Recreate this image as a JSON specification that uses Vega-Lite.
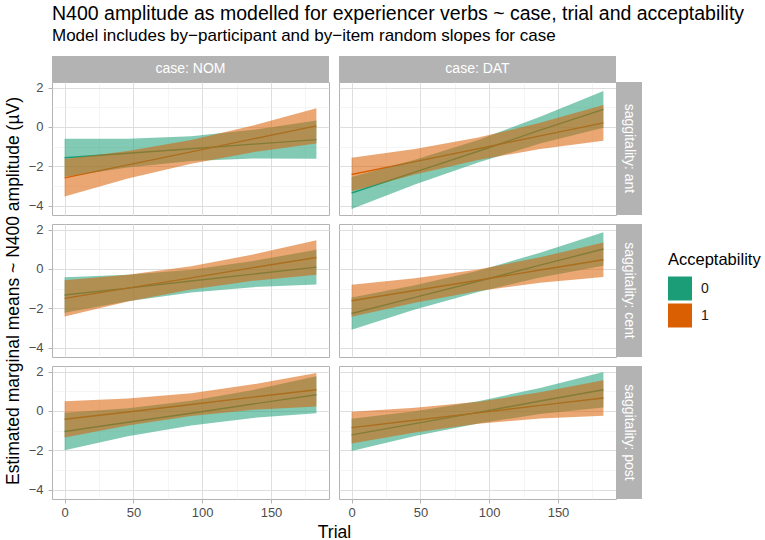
{
  "$schema": "https://vega.github.io/schema/vega-lite/v6.json",
  "padding": {"left": 3, "top": 3, "right": 5, "bottom": 2},
  "title": {
    "text": "N400 amplitude as modelled for experiencer verbs ~ case, trial and acceptability",
    "subtitle": "Model includes by−participant and by−item random slopes for case",
    "anchor": "start", "frame": "group", "offset": 11
  },
  "datasets": {
    "em": [
      {"case": "NOM", "sag": "ant", "acc": "0", "trial": 0, "emmean": -1.57, "lower": -2.54, "upper": -0.60},
      {"case": "NOM", "sag": "ant", "acc": "0", "trial": 46, "emmean": -1.34, "lower": -2.07, "upper": -0.61},
      {"case": "NOM", "sag": "ant", "acc": "0", "trial": 92, "emmean": -1.11, "lower": -1.74, "upper": -0.48},
      {"case": "NOM", "sag": "ant", "acc": "0", "trial": 137, "emmean": -0.88, "lower": -1.61, "upper": -0.15},
      {"case": "NOM", "sag": "ant", "acc": "0", "trial": 183, "emmean": -0.65, "lower": -1.62, "upper": 0.32},
      {"case": "NOM", "sag": "ant", "acc": "1", "trial": 0, "emmean": -2.59, "lower": -3.54, "upper": -1.64},
      {"case": "NOM", "sag": "ant", "acc": "1", "trial": 46, "emmean": -1.93, "lower": -2.63, "upper": -1.23},
      {"case": "NOM", "sag": "ant", "acc": "1", "trial": 92, "emmean": -1.27, "lower": -1.87, "upper": -0.67},
      {"case": "NOM", "sag": "ant", "acc": "1", "trial": 137, "emmean": -0.61, "lower": -1.29, "upper": 0.07},
      {"case": "NOM", "sag": "ant", "acc": "1", "trial": 183, "emmean": 0.05, "lower": -0.85, "upper": 0.95},
      {"case": "DAT", "sag": "ant", "acc": "0", "trial": 0, "emmean": -3.36, "lower": -4.17, "upper": -2.55},
      {"case": "DAT", "sag": "ant", "acc": "0", "trial": 46, "emmean": -2.30, "lower": -2.93, "upper": -1.67},
      {"case": "DAT", "sag": "ant", "acc": "0", "trial": 92, "emmean": -1.24, "lower": -1.81, "upper": -0.67},
      {"case": "DAT", "sag": "ant", "acc": "0", "trial": 137, "emmean": -0.17, "lower": -0.85, "upper": 0.51},
      {"case": "DAT", "sag": "ant", "acc": "0", "trial": 183, "emmean": 0.89, "lower": -0.04, "upper": 1.82},
      {"case": "DAT", "sag": "ant", "acc": "1", "trial": 0, "emmean": -2.42, "lower": -3.27, "upper": -1.57},
      {"case": "DAT", "sag": "ant", "acc": "1", "trial": 46, "emmean": -1.77, "lower": -2.42, "upper": -1.12},
      {"case": "DAT", "sag": "ant", "acc": "1", "trial": 92, "emmean": -1.11, "lower": -1.68, "upper": -0.54},
      {"case": "DAT", "sag": "ant", "acc": "1", "trial": 137, "emmean": -0.46, "lower": -1.13, "upper": 0.21},
      {"case": "DAT", "sag": "ant", "acc": "1", "trial": 183, "emmean": 0.20, "lower": -0.71, "upper": 1.11},
      {"case": "NOM", "sag": "cent", "acc": "0", "trial": 0, "emmean": -1.33, "lower": -2.23, "upper": -0.43},
      {"case": "NOM", "sag": "cent", "acc": "0", "trial": 46, "emmean": -0.98, "lower": -1.65, "upper": -0.30},
      {"case": "NOM", "sag": "cent", "acc": "0", "trial": 92, "emmean": -0.62, "lower": -1.20, "upper": -0.04},
      {"case": "NOM", "sag": "cent", "acc": "0", "trial": 137, "emmean": -0.27, "lower": -0.93, "upper": 0.40},
      {"case": "NOM", "sag": "cent", "acc": "0", "trial": 183, "emmean": 0.09, "lower": -0.79, "upper": 0.97},
      {"case": "NOM", "sag": "cent", "acc": "1", "trial": 0, "emmean": -1.50, "lower": -2.42, "upper": -0.58},
      {"case": "NOM", "sag": "cent", "acc": "1", "trial": 46, "emmean": -0.98, "lower": -1.66, "upper": -0.30},
      {"case": "NOM", "sag": "cent", "acc": "1", "trial": 92, "emmean": -0.46, "lower": -1.05, "upper": 0.13},
      {"case": "NOM", "sag": "cent", "acc": "1", "trial": 137, "emmean": 0.06, "lower": -0.61, "upper": 0.73},
      {"case": "NOM", "sag": "cent", "acc": "1", "trial": 183, "emmean": 0.58, "lower": -0.30, "upper": 1.46},
      {"case": "DAT", "sag": "cent", "acc": "0", "trial": 0, "emmean": -2.27, "lower": -3.09, "upper": -1.45},
      {"case": "DAT", "sag": "cent", "acc": "0", "trial": 46, "emmean": -1.45, "lower": -2.07, "upper": -0.83},
      {"case": "DAT", "sag": "cent", "acc": "0", "trial": 92, "emmean": -0.63, "lower": -1.17, "upper": -0.09},
      {"case": "DAT", "sag": "cent", "acc": "0", "trial": 137, "emmean": 0.19, "lower": -0.44, "upper": 0.82},
      {"case": "DAT", "sag": "cent", "acc": "0", "trial": 183, "emmean": 1.01, "lower": 0.16, "upper": 1.86},
      {"case": "DAT", "sag": "cent", "acc": "1", "trial": 0, "emmean": -1.62, "lower": -2.43, "upper": -0.81},
      {"case": "DAT", "sag": "cent", "acc": "1", "trial": 46, "emmean": -1.10, "lower": -1.72, "upper": -0.48},
      {"case": "DAT", "sag": "cent", "acc": "1", "trial": 92, "emmean": -0.58, "lower": -1.13, "upper": -0.03},
      {"case": "DAT", "sag": "cent", "acc": "1", "trial": 137, "emmean": -0.06, "lower": -0.71, "upper": 0.59},
      {"case": "DAT", "sag": "cent", "acc": "1", "trial": 183, "emmean": 0.46, "lower": -0.42, "upper": 1.34},
      {"case": "NOM", "sag": "post", "acc": "0", "trial": 0, "emmean": -1.05, "lower": -2.00, "upper": -0.10},
      {"case": "NOM", "sag": "post", "acc": "0", "trial": 46, "emmean": -0.58, "lower": -1.29, "upper": 0.13},
      {"case": "NOM", "sag": "post", "acc": "0", "trial": 92, "emmean": -0.12, "lower": -0.74, "upper": 0.51},
      {"case": "NOM", "sag": "post", "acc": "0", "trial": 137, "emmean": 0.35, "lower": -0.36, "upper": 1.06},
      {"case": "NOM", "sag": "post", "acc": "0", "trial": 183, "emmean": 0.82, "lower": -0.12, "upper": 1.76},
      {"case": "NOM", "sag": "post", "acc": "1", "trial": 0, "emmean": -0.43, "lower": -1.35, "upper": 0.49},
      {"case": "NOM", "sag": "post", "acc": "1", "trial": 46, "emmean": -0.06, "lower": -0.74, "upper": 0.63},
      {"case": "NOM", "sag": "post", "acc": "1", "trial": 92, "emmean": 0.32, "lower": -0.26, "upper": 0.90},
      {"case": "NOM", "sag": "post", "acc": "1", "trial": 137, "emmean": 0.70, "lower": 0.05, "upper": 1.35},
      {"case": "NOM", "sag": "post", "acc": "1", "trial": 183, "emmean": 1.07, "lower": 0.22, "upper": 1.92},
      {"case": "DAT", "sag": "post", "acc": "0", "trial": 0, "emmean": -1.22, "lower": -2.04, "upper": -0.40},
      {"case": "DAT", "sag": "post", "acc": "0", "trial": 46, "emmean": -0.65, "lower": -1.28, "upper": -0.02},
      {"case": "DAT", "sag": "post", "acc": "0", "trial": 92, "emmean": -0.08, "lower": -0.64, "upper": 0.49},
      {"case": "DAT", "sag": "post", "acc": "0", "trial": 137, "emmean": 0.50, "lower": -0.16, "upper": 1.16},
      {"case": "DAT", "sag": "post", "acc": "0", "trial": 183, "emmean": 1.07, "lower": 0.17, "upper": 1.97},
      {"case": "DAT", "sag": "post", "acc": "1", "trial": 0, "emmean": -0.85, "lower": -1.66, "upper": -0.04},
      {"case": "DAT", "sag": "post", "acc": "1", "trial": 46, "emmean": -0.48, "lower": -1.10, "upper": 0.16},
      {"case": "DAT", "sag": "post", "acc": "1", "trial": 92, "emmean": -0.10, "lower": -0.66, "upper": 0.46},
      {"case": "DAT", "sag": "post", "acc": "1", "trial": 137, "emmean": 0.28, "lower": -0.39, "upper": 0.94},
      {"case": "DAT", "sag": "post", "acc": "1", "trial": 183, "emmean": 0.65, "lower": -0.25, "upper": 1.55}
    ]
  },
  "columns": 4,
  "spacing": 0,
  "bounds": "flush",
  "align": "each",
  "concat": [
    {"width": 277, "height": 26, "view": {"stroke": null}, "data": {"values": [{"label": "case: NOM"}]},
     "layer": [{"mark": {"type": "rect", "color": "#b3b3b3"}, "encoding": {}},
               {"mark": {"type": "text", "color": "white", "fontSize": 14}, "encoding": {"text": {"field": "label"}}}]},
    {"width": 10, "height": 26, "view": {"stroke": null}, "data": {"values": [{}]}, "mark": {"type": "rect", "opacity": 0}, "encoding": {}},
    {"width": 277, "height": 26, "view": {"stroke": null}, "data": {"values": [{"label": "case: DAT"}]},
     "layer": [{"mark": {"type": "rect", "color": "#b3b3b3"}, "encoding": {}},
               {"mark": {"type": "text", "color": "white", "fontSize": 14}, "encoding": {"text": {"field": "label"}}}]},
    {"width": 26, "height": 26, "view": {"stroke": null}, "data": {"values": [{}]}, "mark": {"type": "rect", "opacity": 0}, "encoding": {}},

    {"width": 277, "height": 133, "data": {"name": "em"},
     "transform": [{"filter": "datum.case === 'NOM' && datum.sag === 'ant'"}],
     "encoding": {
       "x": {"field": "trial", "type": "quantitative", "scale": {"domain": [-9.15, 192.15], "nice": false, "zero": false},
         "axis": {"values": [0, 25, 50, 75, 100, 125, 150, 175], "labels": false, "ticks": false, "title": null,
                  "gridColor": {"condition": {"test": "datum.value % 50 === 0", "value": "#dedede"}, "value": "#efefef"},
                  "gridWidth": {"condition": {"test": "datum.value % 50 === 0", "value": 1}, "value": 0.6}}},
       "y": {"field": "emmean", "type": "quantitative", "scale": {"domain": [-4.48, 2.28], "nice": false, "zero": false},
         "axis": {"values": [-4, -3, -2, -1, 0, 1, 2], "labelExpr": "datum.value % 2 === 0 ? datum.label : ''", "labelOverlap": false, "title": null,
                  "tickOpacity": {"condition": {"test": "datum.value % 2 === 0", "value": 1}, "value": 0},
                  "gridColor": {"condition": {"test": "datum.value % 2 === 0", "value": "#dedede"}, "value": "#efefef"},
                  "gridWidth": {"condition": {"test": "datum.value % 2 === 0", "value": 1}, "value": 0.6}}}},
     "layer": [
       {"transform": [{"filter": "datum.acc === '0'"}], "mark": {"type": "line", "strokeWidth": 1.4, "color": "#1b9e77"}, "encoding": {}},
       {"transform": [{"filter": "datum.acc === '1'"}], "mark": {"type": "line", "strokeWidth": 1.4, "color": "#d95f02"}, "encoding": {}},
       {"mark": {"type": "area", "fillOpacity": 0.55},
        "encoding": {"y": {"field": "lower", "type": "quantitative", "scale": {"domain": [-4.48, 2.28], "nice": false, "zero": false},
          "axis": {"values": [-4, -3, -2, -1, 0, 1, 2], "labelExpr": "datum.value % 2 === 0 ? datum.label : ''", "labelOverlap": false, "title": null,
                   "tickOpacity": {"condition": {"test": "datum.value % 2 === 0", "value": 1}, "value": 0},
                   "gridColor": {"condition": {"test": "datum.value % 2 === 0", "value": "#dedede"}, "value": "#efefef"},
                   "gridWidth": {"condition": {"test": "datum.value % 2 === 0", "value": 1}, "value": 0.6}}},
          "y2": {"field": "upper"},
          "fill": {"field": "acc", "type": "nominal", "title": "Acceptability", "scale": {"domain": ["0", "1"], "range": ["#1b9e77", "#d95f02"]}}}}
     ]},
    {"width": 10, "height": 133, "view": {"stroke": null}, "data": {"values": [{}]}, "mark": {"type": "rect", "opacity": 0}, "encoding": {}},
    {"width": 277, "height": 133, "data": {"name": "em"},
     "transform": [{"filter": "datum.case === 'DAT' && datum.sag === 'ant'"}],
     "encoding": {
       "x": {"field": "trial", "type": "quantitative", "scale": {"domain": [-9.15, 192.15], "nice": false, "zero": false},
         "axis": {"values": [0, 25, 50, 75, 100, 125, 150, 175], "labels": false, "ticks": false, "title": null,
                  "gridColor": {"condition": {"test": "datum.value % 50 === 0", "value": "#dedede"}, "value": "#efefef"},
                  "gridWidth": {"condition": {"test": "datum.value % 50 === 0", "value": 1}, "value": 0.6}}},
       "y": {"field": "emmean", "type": "quantitative", "scale": {"domain": [-4.48, 2.28], "nice": false, "zero": false},
         "axis": {"values": [-4, -3, -2, -1, 0, 1, 2], "labels": false, "ticks": false, "title": null,
                  "gridColor": {"condition": {"test": "datum.value % 2 === 0", "value": "#dedede"}, "value": "#efefef"},
                  "gridWidth": {"condition": {"test": "datum.value % 2 === 0", "value": 1}, "value": 0.6}}}},
     "layer": [
       {"transform": [{"filter": "datum.acc === '0'"}], "mark": {"type": "line", "strokeWidth": 1.4, "color": "#1b9e77"}, "encoding": {}},
       {"transform": [{"filter": "datum.acc === '1'"}], "mark": {"type": "line", "strokeWidth": 1.4, "color": "#d95f02"}, "encoding": {}},
       {"mark": {"type": "area", "fillOpacity": 0.55},
        "encoding": {"y": {"field": "lower", "type": "quantitative", "scale": {"domain": [-4.48, 2.28], "nice": false, "zero": false},
          "axis": {"values": [-4, -3, -2, -1, 0, 1, 2], "labels": false, "ticks": false, "title": null,
                   "gridColor": {"condition": {"test": "datum.value % 2 === 0", "value": "#dedede"}, "value": "#efefef"},
                   "gridWidth": {"condition": {"test": "datum.value % 2 === 0", "value": 1}, "value": 0.6}}},
          "y2": {"field": "upper"},
          "fill": {"field": "acc", "type": "nominal", "title": "Acceptability", "scale": {"domain": ["0", "1"], "range": ["#1b9e77", "#d95f02"]}}}}
     ]},
    {"width": 26, "height": 133, "view": {"stroke": null}, "data": {"values": [{"label": "saggitality: ant"}]},
     "layer": [{"mark": {"type": "rect", "color": "#b3b3b3"}, "encoding": {}},
               {"mark": {"type": "text", "color": "white", "fontSize": 14, "angle": 90}, "encoding": {"text": {"field": "label"}}}]},

    {"width": 277, "height": 9, "view": {"stroke": null}, "data": {"values": [{}]}, "mark": {"type": "rect", "opacity": 0}, "encoding": {}},
    {"width": 10, "height": 9, "view": {"stroke": null}, "data": {"values": [{}]}, "mark": {"type": "rect", "opacity": 0}, "encoding": {}},
    {"width": 277, "height": 9, "view": {"stroke": null}, "data": {"values": [{}]}, "mark": {"type": "rect", "opacity": 0}, "encoding": {}},
    {"width": 26, "height": 9, "view": {"stroke": null}, "data": {"values": [{}]}, "mark": {"type": "rect", "opacity": 0}, "encoding": {}},

    {"width": 277, "height": 133, "data": {"name": "em"},
     "transform": [{"filter": "datum.case === 'NOM' && datum.sag === 'cent'"}],
     "encoding": {
       "x": {"field": "trial", "type": "quantitative", "scale": {"domain": [-9.15, 192.15], "nice": false, "zero": false},
         "axis": {"values": [0, 25, 50, 75, 100, 125, 150, 175], "labels": false, "ticks": false, "title": null,
                  "gridColor": {"condition": {"test": "datum.value % 50 === 0", "value": "#dedede"}, "value": "#efefef"},
                  "gridWidth": {"condition": {"test": "datum.value % 50 === 0", "value": 1}, "value": 0.6}}},
       "y": {"field": "emmean", "type": "quantitative", "scale": {"domain": [-4.48, 2.28], "nice": false, "zero": false},
         "axis": {"values": [-4, -3, -2, -1, 0, 1, 2], "labelExpr": "datum.value % 2 === 0 ? datum.label : ''", "labelOverlap": false,
                  "title": "Estimated marginal means ~ N400 amplitude (µV)",
                  "tickOpacity": {"condition": {"test": "datum.value % 2 === 0", "value": 1}, "value": 0},
                  "gridColor": {"condition": {"test": "datum.value % 2 === 0", "value": "#dedede"}, "value": "#efefef"},
                  "gridWidth": {"condition": {"test": "datum.value % 2 === 0", "value": 1}, "value": 0.6}}}},
     "layer": [
       {"transform": [{"filter": "datum.acc === '0'"}], "mark": {"type": "line", "strokeWidth": 1.4, "color": "#1b9e77"}, "encoding": {}},
       {"transform": [{"filter": "datum.acc === '1'"}], "mark": {"type": "line", "strokeWidth": 1.4, "color": "#d95f02"}, "encoding": {}},
       {"mark": {"type": "area", "fillOpacity": 0.55},
        "encoding": {"y": {"field": "lower", "type": "quantitative", "scale": {"domain": [-4.48, 2.28], "nice": false, "zero": false},
          "axis": {"values": [-4, -3, -2, -1, 0, 1, 2], "labelExpr": "datum.value % 2 === 0 ? datum.label : ''", "labelOverlap": false,
                   "title": "Estimated marginal means ~ N400 amplitude (µV)",
                   "tickOpacity": {"condition": {"test": "datum.value % 2 === 0", "value": 1}, "value": 0},
                   "gridColor": {"condition": {"test": "datum.value % 2 === 0", "value": "#dedede"}, "value": "#efefef"},
                   "gridWidth": {"condition": {"test": "datum.value % 2 === 0", "value": 1}, "value": 0.6}}},
          "y2": {"field": "upper"},
          "fill": {"field": "acc", "type": "nominal", "title": "Acceptability", "scale": {"domain": ["0", "1"], "range": ["#1b9e77", "#d95f02"]}}}}
     ]},
    {"width": 10, "height": 133, "view": {"stroke": null}, "data": {"values": [{}]}, "mark": {"type": "rect", "opacity": 0}, "encoding": {}},
    {"width": 277, "height": 133, "data": {"name": "em"},
     "transform": [{"filter": "datum.case === 'DAT' && datum.sag === 'cent'"}],
     "encoding": {
       "x": {"field": "trial", "type": "quantitative", "scale": {"domain": [-9.15, 192.15], "nice": false, "zero": false},
         "axis": {"values": [0, 25, 50, 75, 100, 125, 150, 175], "labels": false, "ticks": false, "title": null,
                  "gridColor": {"condition": {"test": "datum.value % 50 === 0", "value": "#dedede"}, "value": "#efefef"},
                  "gridWidth": {"condition": {"test": "datum.value % 50 === 0", "value": 1}, "value": 0.6}}},
       "y": {"field": "emmean", "type": "quantitative", "scale": {"domain": [-4.48, 2.28], "nice": false, "zero": false},
         "axis": {"values": [-4, -3, -2, -1, 0, 1, 2], "labels": false, "ticks": false, "title": null,
                  "gridColor": {"condition": {"test": "datum.value % 2 === 0", "value": "#dedede"}, "value": "#efefef"},
                  "gridWidth": {"condition": {"test": "datum.value % 2 === 0", "value": 1}, "value": 0.6}}}},
     "layer": [
       {"transform": [{"filter": "datum.acc === '0'"}], "mark": {"type": "line", "strokeWidth": 1.4, "color": "#1b9e77"}, "encoding": {}},
       {"transform": [{"filter": "datum.acc === '1'"}], "mark": {"type": "line", "strokeWidth": 1.4, "color": "#d95f02"}, "encoding": {}},
       {"mark": {"type": "area", "fillOpacity": 0.55},
        "encoding": {"y": {"field": "lower", "type": "quantitative", "scale": {"domain": [-4.48, 2.28], "nice": false, "zero": false},
          "axis": {"values": [-4, -3, -2, -1, 0, 1, 2], "labels": false, "ticks": false, "title": null,
                   "gridColor": {"condition": {"test": "datum.value % 2 === 0", "value": "#dedede"}, "value": "#efefef"},
                   "gridWidth": {"condition": {"test": "datum.value % 2 === 0", "value": 1}, "value": 0.6}}},
          "y2": {"field": "upper"},
          "fill": {"field": "acc", "type": "nominal", "title": "Acceptability", "scale": {"domain": ["0", "1"], "range": ["#1b9e77", "#d95f02"]}}}}
     ]},
    {"width": 26, "height": 133, "view": {"stroke": null}, "data": {"values": [{"label": "saggitality: cent"}]},
     "layer": [{"mark": {"type": "rect", "color": "#b3b3b3"}, "encoding": {}},
               {"mark": {"type": "text", "color": "white", "fontSize": 14, "angle": 90}, "encoding": {"text": {"field": "label"}}}]},

    {"width": 277, "height": 9, "view": {"stroke": null}, "data": {"values": [{}]}, "mark": {"type": "rect", "opacity": 0}, "encoding": {}},
    {"width": 10, "height": 9, "view": {"stroke": null}, "data": {"values": [{}]}, "mark": {"type": "rect", "opacity": 0}, "encoding": {}},
    {"width": 277, "height": 9, "view": {"stroke": null}, "data": {"values": [{}]}, "mark": {"type": "rect", "opacity": 0}, "encoding": {}},
    {"width": 26, "height": 9, "view": {"stroke": null}, "data": {"values": [{}]}, "mark": {"type": "rect", "opacity": 0}, "encoding": {}},

    {"width": 277, "height": 133, "data": {"name": "em"},
     "transform": [{"filter": "datum.case === 'NOM' && datum.sag === 'post'"}],
     "encoding": {
       "x": {"field": "trial", "type": "quantitative", "scale": {"domain": [-9.15, 192.15], "nice": false, "zero": false},
         "axis": {"values": [0, 25, 50, 75, 100, 125, 150, 175], "labelExpr": "datum.value % 50 === 0 ? datum.label : ''", "labelOverlap": false, "labelFlush": false,
                  "title": "Trial", "titleX": 282,
                  "tickOpacity": {"condition": {"test": "datum.value % 50 === 0", "value": 1}, "value": 0},
                  "gridColor": {"condition": {"test": "datum.value % 50 === 0", "value": "#dedede"}, "value": "#efefef"},
                  "gridWidth": {"condition": {"test": "datum.value % 50 === 0", "value": 1}, "value": 0.6}}},
       "y": {"field": "emmean", "type": "quantitative", "scale": {"domain": [-4.48, 2.28], "nice": false, "zero": false},
         "axis": {"values": [-4, -3, -2, -1, 0, 1, 2], "labelExpr": "datum.value % 2 === 0 ? datum.label : ''", "labelOverlap": false, "title": null,
                  "tickOpacity": {"condition": {"test": "datum.value % 2 === 0", "value": 1}, "value": 0},
                  "gridColor": {"condition": {"test": "datum.value % 2 === 0", "value": "#dedede"}, "value": "#efefef"},
                  "gridWidth": {"condition": {"test": "datum.value % 2 === 0", "value": 1}, "value": 0.6}}}},
     "layer": [
       {"transform": [{"filter": "datum.acc === '0'"}], "mark": {"type": "line", "strokeWidth": 1.4, "color": "#1b9e77"}, "encoding": {}},
       {"transform": [{"filter": "datum.acc === '1'"}], "mark": {"type": "line", "strokeWidth": 1.4, "color": "#d95f02"}, "encoding": {}},
       {"mark": {"type": "area", "fillOpacity": 0.55},
        "encoding": {"y": {"field": "lower", "type": "quantitative", "scale": {"domain": [-4.48, 2.28], "nice": false, "zero": false},
          "axis": {"values": [-4, -3, -2, -1, 0, 1, 2], "labelExpr": "datum.value % 2 === 0 ? datum.label : ''", "labelOverlap": false, "title": null,
                   "tickOpacity": {"condition": {"test": "datum.value % 2 === 0", "value": 1}, "value": 0},
                   "gridColor": {"condition": {"test": "datum.value % 2 === 0", "value": "#dedede"}, "value": "#efefef"},
                   "gridWidth": {"condition": {"test": "datum.value % 2 === 0", "value": 1}, "value": 0.6}}},
          "y2": {"field": "upper"},
          "fill": {"field": "acc", "type": "nominal", "title": "Acceptability", "scale": {"domain": ["0", "1"], "range": ["#1b9e77", "#d95f02"]}}}}
     ]},
    {"width": 10, "height": 133, "view": {"stroke": null}, "data": {"values": [{}]}, "mark": {"type": "rect", "opacity": 0}, "encoding": {}},
    {"width": 277, "height": 133, "data": {"name": "em"},
     "transform": [{"filter": "datum.case === 'DAT' && datum.sag === 'post'"}],
     "encoding": {
       "x": {"field": "trial", "type": "quantitative", "scale": {"domain": [-9.15, 192.15], "nice": false, "zero": false},
         "axis": {"values": [0, 25, 50, 75, 100, 125, 150, 175], "labelExpr": "datum.value % 50 === 0 ? datum.label : ''", "labelOverlap": false, "labelFlush": false,
                  "title": null,
                  "tickOpacity": {"condition": {"test": "datum.value % 50 === 0", "value": 1}, "value": 0},
                  "gridColor": {"condition": {"test": "datum.value % 50 === 0", "value": "#dedede"}, "value": "#efefef"},
                  "gridWidth": {"condition": {"test": "datum.value % 50 === 0", "value": 1}, "value": 0.6}}},
       "y": {"field": "emmean", "type": "quantitative", "scale": {"domain": [-4.48, 2.28], "nice": false, "zero": false},
         "axis": {"values": [-4, -3, -2, -1, 0, 1, 2], "labels": false, "ticks": false, "title": null,
                  "gridColor": {"condition": {"test": "datum.value % 2 === 0", "value": "#dedede"}, "value": "#efefef"},
                  "gridWidth": {"condition": {"test": "datum.value % 2 === 0", "value": 1}, "value": 0.6}}}},
     "layer": [
       {"transform": [{"filter": "datum.acc === '0'"}], "mark": {"type": "line", "strokeWidth": 1.4, "color": "#1b9e77"}, "encoding": {}},
       {"transform": [{"filter": "datum.acc === '1'"}], "mark": {"type": "line", "strokeWidth": 1.4, "color": "#d95f02"}, "encoding": {}},
       {"mark": {"type": "area", "fillOpacity": 0.55},
        "encoding": {"y": {"field": "lower", "type": "quantitative", "scale": {"domain": [-4.48, 2.28], "nice": false, "zero": false},
          "axis": {"values": [-4, -3, -2, -1, 0, 1, 2], "labels": false, "ticks": false, "title": null,
                   "gridColor": {"condition": {"test": "datum.value % 2 === 0", "value": "#dedede"}, "value": "#efefef"},
                   "gridWidth": {"condition": {"test": "datum.value % 2 === 0", "value": 1}, "value": 0.6}}},
          "y2": {"field": "upper"},
          "fill": {"field": "acc", "type": "nominal", "title": "Acceptability", "scale": {"domain": ["0", "1"], "range": ["#1b9e77", "#d95f02"]}}}}
     ]},
    {"width": 26, "height": 133, "view": {"stroke": null}, "data": {"values": [{"label": "saggitality: post"}]},
     "layer": [{"mark": {"type": "rect", "color": "#b3b3b3"}, "encoding": {}},
               {"mark": {"type": "text", "color": "white", "fontSize": 14, "angle": 90}, "encoding": {"text": {"field": "label"}}}]}
  ],
  "config": {
    "font": "Liberation Sans",
    "view": {"stroke": "#b3b3b3", "strokeWidth": 1},
    "title": {"fontSize": 19.5, "fontWeight": "normal", "color": "#000000", "subtitleFontSize": 17, "subtitleColor": "#000000", "subtitlePadding": 4},
    "axis": {"domain": false, "tickColor": "#b3b3b3", "tickSize": 4, "tickWidth": 1,
             "labelFontSize": 13, "labelColor": "#4d4d4d", "labelPadding": 3,
             "titleFontSize": 17.5, "titleFontWeight": "normal", "titleColor": "#000000", "titlePadding": 4},
    "axisY": {"labelPadding": 5, "titlePadding": 6},
    "legend": {"orient": "none", "legendX": 616, "legendY": 196, "padding": 0,
               "symbolType": "square", "symbolSize": 576, "symbolOpacity": 1, "symbolStrokeWidth": 0,
               "rowPadding": 3, "labelOffset": 9, "labelFontSize": 14, "labelColor": "#1a1a1a",
               "titleFontSize": 16.5, "titleFontWeight": "normal", "titleColor": "#000000", "titlePadding": 8}
  }
}
